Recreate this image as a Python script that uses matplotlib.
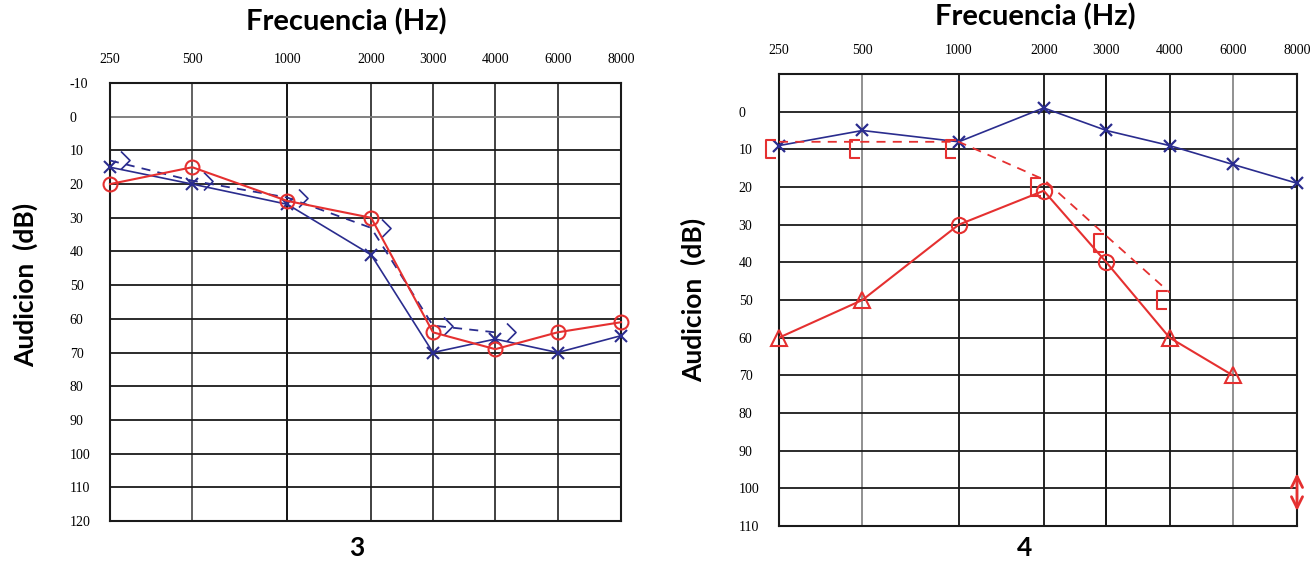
import matplotlib.pyplot as plt
from matplotlib.path import Path
import numpy as np

# audiogram data
freqs = ["250", "500", "1000", "2000", "3000", "4000", "6000", "8000"]

# chart 3
red_ac_3 = [20, 15, 25, 30, 64, 69, 64, 61]
blue_ac_3 = [15, 20, 26, 41, 70, 66, 70, 65]
blue_bc_3 = [13, 19, 24, 33, 62, 64]

# chart 4
blue_ac_4 = [9, 5, 8, -1, 5, 9, 14, 19]
red_ac_4 = [60, 50, 30, 21, 40, 60, 70]
red_bc_4 = [8, 8, 8, 18, 33, 48]
no_resp_4 = 101  # at 8000 Hz

yticks_3 = list(range(-10, 121, 10))
yticks_4 = list(range(0, 111, 10))

# horizontal spacing of the printed grid (not log spaced)
col_x = np.array([0, 0.161, 0.347, 0.511, 0.632, 0.754, 0.876, 1.0])

RED = "#e53030"
BLUE = "#2a2c8e"

# open marker shapes for bone conduction
angle = Path([(-0.5, 1), (0.5, 0), (-0.5, -1)],
             [Path.MOVETO, Path.LINETO, Path.LINETO])
bracket = Path([(0.5, 1), (-0.5, 1), (-0.5, -1), (0.5, -1)],
               [Path.MOVETO, Path.LINETO, Path.LINETO, Path.LINETO])

plt.rcParams["font.family"] = ["Liberation Serif"]

fig = plt.figure(figsize=(13.13, 5.65), dpi=100)
ax3 = fig.add_axes([110 / 1313, 1 - 521 / 565, 511 / 1313, 438 / 565])
ax4 = fig.add_axes([779 / 1313, 1 - 526 / 565, 518 / 1313, 452 / 565])


def setup(ax, ymin, ymax, yticks, vcolors, hgray):
    ax.set_xlim(0, 1)
    ax.set_ylim(ymax, ymin)
    for i, x in enumerate(col_x):
        ax.axvline(x, color=vcolors[i], lw=1.3, zorder=1)
    for v in range(ymin, ymax + 1, 10):
        c = "#777777" if v in hgray else "#1a1a1a"
        ax.axhline(v, color=c, lw=1.3, zorder=1)
    for s in ax.spines.values():
        s.set_color("#1a1a1a")
        s.set_linewidth(1.5)
    ax.set_xticks(col_x)
    ax.set_xticklabels(freqs, fontsize=10)
    ax.xaxis.tick_top()
    ax.tick_params(axis="x", length=0, pad=12)
    ax.set_yticks(yticks)
    ax.set_yticklabels([str(t) for t in yticks], fontsize=10, ha="left")
    ax.tick_params(axis="y", length=0, pad=29)


setup(ax3, -10, 120, yticks_3,
      ["#1a1a1a", "#555555", "#000000", "#333333", "#333333", "#333333", "#333333", "#444444"],
      [0])
setup(ax4, -10, 110, yticks_4,
      ["#333333", "#888888", "#111111", "#111111", "#000000", "#111111", "#888888", "#111111"],
      [])

# chart 3 curves
ax3.plot(col_x, blue_ac_3, color=BLUE, lw=1.2, marker="x", ms=8, mew=1.5,
         zorder=3, clip_on=False)
nb3 = len(blue_bc_3)
ax3.plot(col_x[:nb3], blue_bc_3, color=BLUE, lw=1.3, ls=(0, (5, 4)), zorder=3)
ax3.plot(col_x[:nb3] + 0.03, blue_bc_3, ls="none", marker=angle, ms=13,
         mfc="none", mec=BLUE, mew=1.2, zorder=4)
ax3.plot(col_x, red_ac_3, color=RED, lw=1.5, marker="o", ms=10, mfc="none",
         mew=1.5, zorder=5, clip_on=False)

# chart 4 curves
ax4.plot(col_x, blue_ac_4, color=BLUE, lw=1.2, marker="x", ms=9, mew=1.6,
         zorder=3, clip_on=False)
n4 = len(red_ac_4)
ax4.plot(col_x[:n4], red_ac_4, color=RED, lw=1.5, zorder=4)
red_marks = ["^", "^", "o", "o", "o", "^", "^"]
for i in range(n4):
    ax4.plot(col_x[i], red_ac_4[i], ls="none", marker=red_marks[i], ms=11,
             mfc="none", mec=RED, mew=1.5, zorder=5, clip_on=False)
nb4 = len(red_bc_4)
ax4.plot(col_x[:nb4], red_bc_4, color=RED, lw=1.3, ls=(0, (5, 4)), zorder=4)
ax4.plot(col_x[:nb4] - 0.015, [v + 2 for v in red_bc_4], ls="none",
         marker=bracket, ms=13, mfc="none", mec=RED, mew=1.5, zorder=5,
         clip_on=False)
ax4.annotate("", xy=(col_x[-1], no_resp_4 - 5), xytext=(col_x[-1], no_resp_4 + 5),
             arrowprops=dict(arrowstyle="<->", color=RED, lw=2.0,
                             mutation_scale=20, shrinkA=0, shrinkB=0),
             annotation_clip=False, zorder=6)

# titles and labels
tkw = dict(family=["Lato", "DejaVu Sans"], fontweight="bold", ha="center",
           va="center")
fig.text(346 / 1313, 1 - 22 / 565, "Frecuencia (Hz)", fontsize=21, **tkw)
fig.text(1035 / 1313, 1 - 17 / 565, "Frecuencia (Hz)", fontsize=21, **tkw)
fig.text(25 / 1313, 1 - 285 / 565, "Audicion  (dB)", fontsize=19, rotation=90, **tkw)
fig.text(693 / 1313, 1 - 300 / 565, "Audicion  (dB)", fontsize=19, rotation=90, **tkw)
fig.text(357 / 1313, 1 - 548 / 565, "3", fontsize=19, **tkw)
fig.text(1025 / 1313, 1 - 548 / 565, "4", fontsize=19, **tkw)

fig.savefig("out.png", dpi=100)
